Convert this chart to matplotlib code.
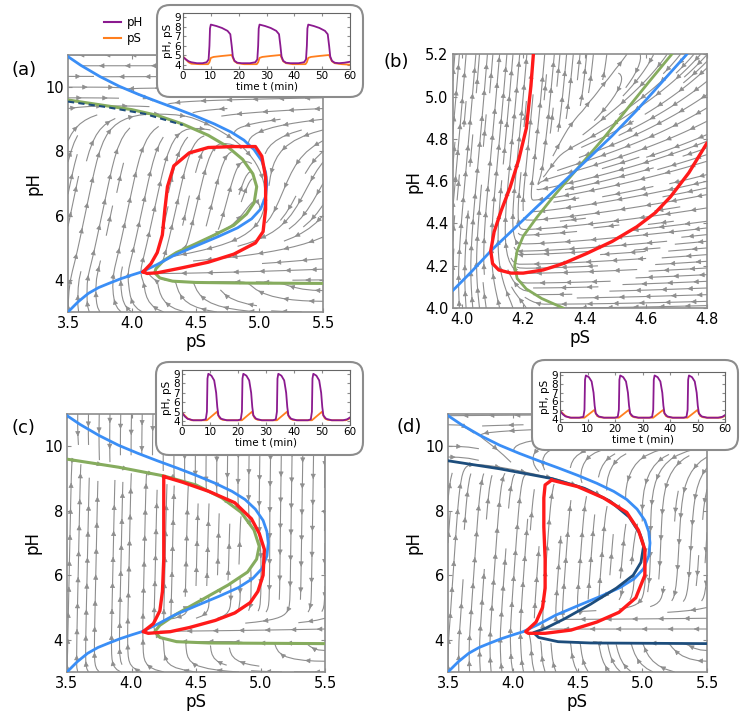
import numpy as np
import matplotlib
matplotlib.use('Agg')
import matplotlib.pyplot as plt
from matplotlib.patches import FancyBboxPatch, FancyArrowPatch
from matplotlib.lines import Line2D

# ---- nullcline / orbit data (pS, pH) ----
blue_pS = [3.5, 3.6, 3.75, 3.9, 4.05, 4.2, 4.35, 4.5, 4.65, 4.78, 4.88, 4.96, 5.02, 5.05, 5.06, 5.05, 5.01, 4.94, 4.83,
           4.68, 4.5, 4.33, 4.2, 4.08, 4.0, 3.91, 3.82, 3.74, 3.66, 3.58, 3.5]
blue_pH = [10.95, 10.68, 10.33, 10.03, 9.78, 9.55, 9.33, 9.1, 8.85, 8.6, 8.35, 8.05, 7.7, 7.35, 7.0, 6.6, 6.2, 5.9, 5.62,
           5.35, 5.05, 4.76, 4.48, 4.25, 4.15, 4.03, 3.89, 3.76, 3.58, 3.32, 3.0]

green_a_pS = [3.5, 3.8, 4.0, 4.2, 4.4, 4.6, 4.75, 4.87, 4.95, 4.98, 4.96, 4.9, 4.8, 4.65, 4.5, 4.35, 4.25, 4.19, 4.18, 4.22, 4.32, 4.5, 4.9, 5.5]
green_a_pH = [9.6, 9.42, 9.3, 9.12, 8.85, 8.5, 8.15, 7.75, 7.3, 6.9, 6.4, 6.05, 5.7, 5.4, 5.12, 4.85, 4.6, 4.35, 4.22, 4.06, 3.96, 3.92, 3.9, 3.89]

dash_a_pS = [3.5, 3.8, 4.1, 4.4]
dash_a_pH = [9.55, 9.38, 9.17, 8.82]

red_a_pS = [4.09, 4.15, 4.2, 4.24, 4.26, 4.28, 4.33, 4.45, 4.6, 4.8, 4.97, 5.02, 5.05, 5.05, 5.03, 4.97, 4.8, 4.6, 4.4, 4.2, 4.12, 4.09]
red_a_pH = [4.25, 4.5, 4.85, 5.4, 6.2, 6.9, 7.55, 7.95, 8.12, 8.15, 8.15, 7.85, 7.2, 6.2, 5.5, 5.15, 4.8, 4.55, 4.38, 4.22, 4.2, 4.25]

blue_b_pS = [3.972, 4.03, 4.097, 4.17, 4.244, 4.33, 4.407, 4.49, 4.57, 4.65, 4.733]
blue_b_pH = [4.085, 4.17, 4.274, 4.375, 4.478, 4.595, 4.7, 4.815, 4.935, 5.065, 5.2]
green_b_pS = [4.684, 4.61, 4.535, 4.46, 4.38, 4.3, 4.245, 4.2, 4.18, 4.172, 4.18, 4.21, 4.26, 4.33]
green_b_pH = [5.2, 5.07, 4.935, 4.8, 4.665, 4.53, 4.43, 4.34, 4.27, 4.2, 4.14, 4.09, 4.045, 4.0]
red_b_pS = [4.233, 4.225, 4.21, 4.185, 4.157, 4.128, 4.105, 4.094, 4.1, 4.12, 4.16, 4.2, 4.265, 4.33, 4.407, 4.49, 4.57, 4.63, 4.68, 4.74, 4.798]
red_b_pH = [5.2, 5.05, 4.85, 4.7, 4.57, 4.46, 4.36, 4.27, 4.21, 4.18, 4.165, 4.165, 4.18, 4.21, 4.258, 4.315, 4.384, 4.45, 4.526, 4.64, 4.778]

green_c_pS = [3.5, 3.9, 4.25, 4.5, 4.7, 4.85, 4.95, 4.99, 4.97, 4.9, 4.75, 4.55, 4.35, 4.22, 4.18, 4.22, 4.35, 4.6, 5.5]
green_c_pH = [9.6, 9.35, 9.08, 8.8, 8.4, 7.95, 7.4, 6.9, 6.5, 6.1, 5.7, 5.25, 4.8, 4.45, 4.25, 4.07, 3.94, 3.9, 3.88]
red_c_pS = [4.25, 4.25, 4.25, 4.24, 4.22, 4.17, 4.09, 4.13, 4.3, 4.45, 4.65, 4.8, 4.92, 4.98, 5.02, 5.03, 4.99, 4.93, 4.8, 4.6, 4.4, 4.25]
red_c_pH = [9.06, 8.0, 6.5, 5.5, 4.9, 4.5, 4.25, 4.2, 4.25, 4.38, 4.6, 4.83, 5.15, 5.5, 6.0, 6.8, 7.3, 7.75, 8.25, 8.6, 8.88, 9.06]

navy_d_pS = [3.5, 3.9, 4.3, 4.55, 4.75, 4.9, 4.98, 5.01, 4.99, 4.93, 4.8, 4.6, 4.4, 4.25, 4.16, 4.2, 4.35, 4.6, 5.5]
navy_d_pH = [9.55, 9.3, 9.0, 8.7, 8.3, 7.8, 7.3, 6.9, 6.4, 6.0, 5.6, 5.1, 4.65, 4.35, 4.22, 4.07, 3.94, 3.9, 3.88]
red_d_pS = [4.3, 4.25, 4.24, 4.24, 4.25, 4.25, 4.23, 4.18, 4.1, 4.12, 4.25, 4.45, 4.65, 4.82, 4.95, 5.02, 5.02, 4.97, 4.88, 4.7, 4.5, 4.3]
red_d_pH = [8.95, 8.8, 8.4, 7.5, 6.5, 5.6, 5.0, 4.55, 4.25, 4.2, 4.2, 4.3, 4.55, 4.85, 5.3, 6.0, 6.8, 7.4, 7.95, 8.4, 8.75, 8.95]

# ---- time series for the insets ----
t_a_H = [0, 1, 2, 3, 5, 7, 8.5, 9.2, 9.5, 9.7, 10, 12, 14, 16, 17, 17.5, 17.9, 18.5, 19.5, 21, 24, 26, 26.7, 27, 27.2, 27.5,
         29.5, 31.5, 33.5, 34.5, 35, 35.4, 36, 37, 38.5, 41.5, 43.5, 44.2, 44.5, 44.7, 45, 47, 49, 51, 52, 52.5, 52.9, 53.5,
         54.5, 56, 58, 60]
pH_a = [4.85, 4.6, 4.4, 4.3, 4.2, 4.2, 4.3, 4.6, 6.0, 7.8, 8.2, 8.05, 7.85, 7.55, 7.2, 6.0, 4.9, 4.45, 4.25, 4.2, 4.2, 4.3,
        4.6, 6.0, 7.8, 8.2, 8.05, 7.85, 7.55, 7.2, 6.0, 4.9, 4.45, 4.25, 4.2, 4.2, 4.3, 4.6, 6.0, 7.8, 8.2, 8.05, 7.85,
        7.55, 7.2, 6.0, 4.9, 4.45, 4.25, 4.2, 4.25, 4.35]
t_a_S = [0, 1, 2, 3, 6, 9, 9.5, 10, 11, 14, 17.5, 18, 18.5, 19.5, 22, 26.5, 27, 27.5, 28.5, 31.5, 35, 35.5, 36, 37, 39.5,
         44, 44.5, 45, 46, 49, 52.5, 53, 53.5, 54.5, 57, 60]
pS_a = [4.9, 4.6, 4.3, 4.15, 4.1, 4.1, 4.3, 4.75, 4.85, 4.95, 5.05, 4.7, 4.4, 4.2, 4.1, 4.1, 4.3, 4.75, 4.85, 4.95, 5.05,
        4.7, 4.4, 4.2, 4.1, 4.1, 4.3, 4.75, 4.85, 4.95, 5.05, 4.7, 4.4, 4.2, 4.1, 4.05]

t_c_H = [0, 1, 2, 4, 7, 8.5, 8.9, 9.1, 9.4, 10.5, 11.5, 12.2, 12.6, 13, 14, 16, 20, 21, 21.4, 21.6, 21.9, 23, 24, 24.7,
         25.1, 25.5, 26.5, 28.5, 32.5, 33.5, 33.9, 34.1, 34.4, 35.5, 36.5, 37.2, 37.6, 38, 39, 41, 45, 46, 46.4, 46.6,
         46.9, 48, 49, 49.7, 50.1, 50.5, 51.5, 53.5, 57.5, 59, 60]
pH_c = [4.9, 4.5, 4.25, 4.1, 4.1, 4.2, 5.0, 8.5, 9.0, 8.8, 8.3, 7.0, 5.5, 4.6, 4.25, 4.1, 4.1, 4.2, 5.0, 8.5, 9.0, 8.8,
        8.3, 7.0, 5.5, 4.6, 4.25, 4.1, 4.1, 4.2, 5.0, 8.5, 9.0, 8.8, 8.3, 7.0, 5.5, 4.6, 4.25, 4.1, 4.1, 4.2, 5.0, 8.5,
        9.0, 8.8, 8.3, 7.0, 5.5, 4.6, 4.25, 4.1, 4.1, 4.2, 4.4]
t_c_S = [0, 1, 2, 3.5, 8.9, 12.5, 13, 13.5, 14.5, 16, 21.4, 25, 25.5, 26, 27, 28.5, 33.9, 37.5, 38, 38.5, 39.5, 41,
         46.4, 50, 50.5, 51, 52, 53.5, 58.5, 60]
pS_c = [4.9, 4.6, 4.3, 4.1, 4.1, 5.0, 4.6, 4.3, 4.15, 4.1, 4.1, 5.0, 4.6, 4.3, 4.15, 4.1, 4.1, 5.0, 4.6, 4.3, 4.15, 4.1,
        4.1, 5.0, 4.6, 4.3, 4.15, 4.1, 4.1, 4.3]

BLUE = '#3a8ef6'
GREEN = '#86ac5e'
RED = '#ff1a1a'
NAVY = '#1d4d7c'
PURPLE = '#8b1a8f'
ORANGE = '#ff7f1e'
STREAM = '#8e8e8e'
EDGE = '#8c8c8c'

W, H = 747, 725
fig = plt.figure(figsize=(W / 100, H / 100), dpi=100)


def px_axes(x0, y0, x1, y1):
    return fig.add_axes([x0 / W, 1 - y1 / H, (x1 - x0) / W, (y1 - y0) / H])


def field(xs, ys, gpS, gpH, b, wpos, wneg):
    X, Y = np.meshgrid(xs, ys)
    B = np.interp(Y, blue_pH[::-1], blue_pS[::-1])
    G = np.interp(Y, gpH[::-1], gpS[::-1])
    U = B - X
    d = G - X
    V = b * d * np.where(d > 0, wpos(Y), wneg(Y))
    return U, V


def stream(ax, xs, ys, U, V, dens, sx, sy, spacing=26):
    # long streamlines from matplotlib, then small arrow heads repeated along each of them
    sp = ax.streamplot(xs, ys, U, V, density=dens, color=STREAM, linewidth=0.8, arrowsize=0.6, zorder=1)
    for p in list(ax.patches):
        p.remove()
    lines, cur = [], None
    for s in sp.lines.get_segments():
        s = np.asarray(s)
        if cur is not None and np.allclose(s[0], cur[-1]):
            cur.extend(s[1:])
        else:
            if cur is not None:
                lines.append(np.array(cur))
            cur = list(s)
    lines.append(np.array(cur))
    for k, ln in enumerate(lines):
        if len(ln) < 2:
            continue
        d = np.diff(ln, axis=0) * [sx, sy]
        seglen = np.hypot(d[:, 0], d[:, 1])
        cum = np.concatenate([[0], np.cumsum(seglen)])
        if cum[-1] < 12:
            continue
        start = spacing * (0.25 + 0.6 * ((k * 0.618) % 1))
        for s in np.arange(start, cum[-1] - 3, spacing):
            i = int(np.clip(np.searchsorted(cum, s) - 1, 0, len(seglen) - 1))
            if seglen[i] == 0:
                continue
            f = (s - cum[i]) / seglen[i]
            p = ln[i] + f * (ln[i + 1] - ln[i])
            q = p + (ln[i + 1] - ln[i]) / seglen[i] * 1.0
            ax.add_patch(FancyArrowPatch(tuple(p), tuple(q), arrowstyle='-|>', mutation_scale=7.5,
                                         color=STREAM, lw=0.5, shrinkA=0, shrinkB=0, zorder=1))


def style(ax, xlim, ylim, xt, yt, xtl, ytl):
    ax.set_xlim(*xlim)
    ax.set_ylim(*ylim)
    ax.set_xticks(xt)
    ax.set_xticklabels(xtl)
    ax.set_yticks(yt)
    ax.set_yticklabels(ytl)
    ax.tick_params(direction='in', length=3, color=EDGE, labelsize=10.5, top=True, right=True, pad=3)
    for sp in ax.spines.values():
        sp.set_color(EDGE)
        sp.set_linewidth(1.2)
    ax.set_xlabel('pS', fontsize=12, labelpad=1)
    ax.set_ylabel('pH', fontsize=12, labelpad=2)


def inset(x0, y0, x1, y1, bx0, by0, bx1, by1, tH, vH, tS, vS):
    box = FancyBboxPatch((bx0 / 100, (H - by1) / 100), (bx1 - bx0) / 100, (by1 - by0) / 100,
                         boxstyle='round,pad=0,rounding_size=0.13', transform=fig.dpi_scale_trans,
                         fc='white', ec=EDGE, lw=1.5, zorder=2)
    fig.add_artist(box)
    ai = px_axes(x0, y0, x1, y1)
    ai.set_zorder(3)
    ai.plot(tS, vS, color=ORANGE, lw=1.3)
    ai.plot(tH, vH, color=PURPLE, lw=1.3)
    ai.set_xlim(0, 60)
    ai.set_ylim(3.6, 9.4)
    ai.set_xticks(range(0, 61, 10))
    ai.set_yticks(range(4, 10))
    ai.tick_params(direction='in', length=2, color=EDGE, labelsize=7.5, top=True, right=True, pad=1.5)
    for sp in ai.spines.values():
        sp.set_color('#666666')
        sp.set_linewidth(0.8)
    ai.set_xlabel('time t (min)', fontsize=7.5, labelpad=0.5)
    ai.set_ylabel('pH, pS', fontsize=7.5, labelpad=1)
    return ai


xs = np.linspace(3.5, 5.5, 90)
ys = np.linspace(3.0, 11.0, 180)
big_xt = [3.5, 4.0, 4.5, 5.0, 5.5]
big_xtl = ['3.5', '4.0', '4.5', '5.0', '5.5']
big_yt = [4, 6, 8, 10]
big_ytl = ['4', '6', '8', '10']

wpos_a = lambda y: np.exp(-((y - 6.2) / 2.4) ** 4)
wneg_a = lambda y: 0.3 * np.exp(-((y - 6.8) / 1.3) ** 2)

# (a)
ax = px_axes(68, 55, 323, 312)
U, V = field(xs, ys, green_a_pS, green_a_pH, 20, wpos_a, wneg_a)
stream(ax, xs, ys, U, V, 0.85, 255 / 2, 257 / 8)
ax.plot(green_a_pS, green_a_pH, color=GREEN, lw=2.2, zorder=3)
ax.plot(dash_a_pS, dash_a_pH, color=NAVY, lw=1.5, ls=(0, (3, 2)), zorder=3.5)
ax.plot(blue_pS, blue_pH, color=BLUE, lw=2.0, zorder=4)
ax.plot(red_a_pS, red_a_pH, color=RED, lw=2.4, zorder=5)
style(ax, (3.5, 5.5), (3, 11), big_xt, big_yt, big_xtl, big_ytl)
inset(183, 13, 350, 69, 157, 5, 363, 97, t_a_H, pH_a, t_a_S, pS_a)
fig.legend([Line2D([], [], color=PURPLE, lw=1.5), Line2D([], [], color=ORANGE, lw=1.5)], ['pH', 'pS'],
           loc='upper left', bbox_to_anchor=(104 / W, 1 - 16 / H), frameon=False, fontsize=8.5,
           handlelength=1.4, handletextpad=0.5, labelspacing=0.25, borderaxespad=0, borderpad=0)

# (b)
ax = px_axes(452.7, 54.3, 707.3, 308)
xsb = np.linspace(3.97, 4.8, 90)
ysb = np.linspace(4.0, 5.2, 120)
U, V = field(xsb, ysb, green_a_pS, green_a_pH, 20, wpos_a, wneg_a)
stream(ax, xsb, ysb, U, V, 1.3, 255 / 0.83, 254 / 1.2)
ax.plot(green_b_pS, green_b_pH, color=GREEN, lw=2.0, zorder=3)
ax.plot(blue_b_pS, blue_b_pH, color=BLUE, lw=2.0, zorder=4)
ax.plot(red_b_pS, red_b_pH, color=RED, lw=2.4, zorder=5)
style(ax, (3.97, 4.8), (4.0, 5.2), [4.0, 4.2, 4.4, 4.6, 4.8], [4.0, 4.2, 4.4, 4.6, 4.8, 5.0, 5.2],
      ['4.0', '4.2', '4.4', '4.6', '4.8'], ['4.0', '4.2', '4.4', '4.6', '4.8', '5.0', '5.2'])

# (c)
ax = px_axes(67, 414, 325, 672)
U, V = field(xs, ys, green_c_pS, green_c_pH, 200,
             lambda y: 1 / (1 + np.exp(-(y - 4.0) * 6)),
             lambda y: 1 / (1 + np.exp(-(y - 5.3) * 8)))
stream(ax, xs, ys, U, V, 0.85, 258 / 2, 258 / 8)
ax.plot(green_c_pS, green_c_pH, color=GREEN, lw=2.2, zorder=3)
ax.plot(blue_pS, blue_pH, color=BLUE, lw=2.0, zorder=4)
ax.plot(red_c_pS, red_c_pH, color=RED, lw=2.4, zorder=5)
style(ax, (3.5, 5.5), (3, 11), big_xt, big_yt, big_xtl, big_ytl)
inset(182, 370, 350, 425, 156, 362, 363, 455, t_c_H, pH_c, t_c_S, pS_c)

# (d)
ax = px_axes(448, 414, 707, 672)
U, V = field(xs, ys, navy_d_pS, navy_d_pH, 60,
             lambda y: np.exp(-((y - 6.4) / 2.8) ** 4),
             lambda y: np.exp(-((y - 6.8) / 1.5) ** 2) / (1 + np.exp(-(y - 5.3) * 8)))
stream(ax, xs, ys, U, V, 0.85, 259 / 2, 258 / 8)
ax.plot(blue_pS, blue_pH, color=BLUE, lw=2.0, zorder=4)
ax.plot(navy_d_pS, navy_d_pH, color=NAVY, lw=2.0, zorder=4.5)
ax.plot(red_d_pS, red_d_pH, color=RED, lw=2.4, zorder=5)
style(ax, (3.5, 5.5), (3, 11), big_xt, big_yt, big_xtl, big_ytl)
inset(560, 372, 725, 422, 532, 360, 738, 450, t_c_H, pH_c, t_c_S, pS_c)

for x, y, s in [(12, 70, '(a)'), (383, 62, '(b)'), (12, 428, '(c)'), (396, 427, '(d)')]:
    fig.text(x / W, 1 - y / H, s, fontsize=13, va='center', ha='left')

fig.savefig('out.png', dpi=100)
